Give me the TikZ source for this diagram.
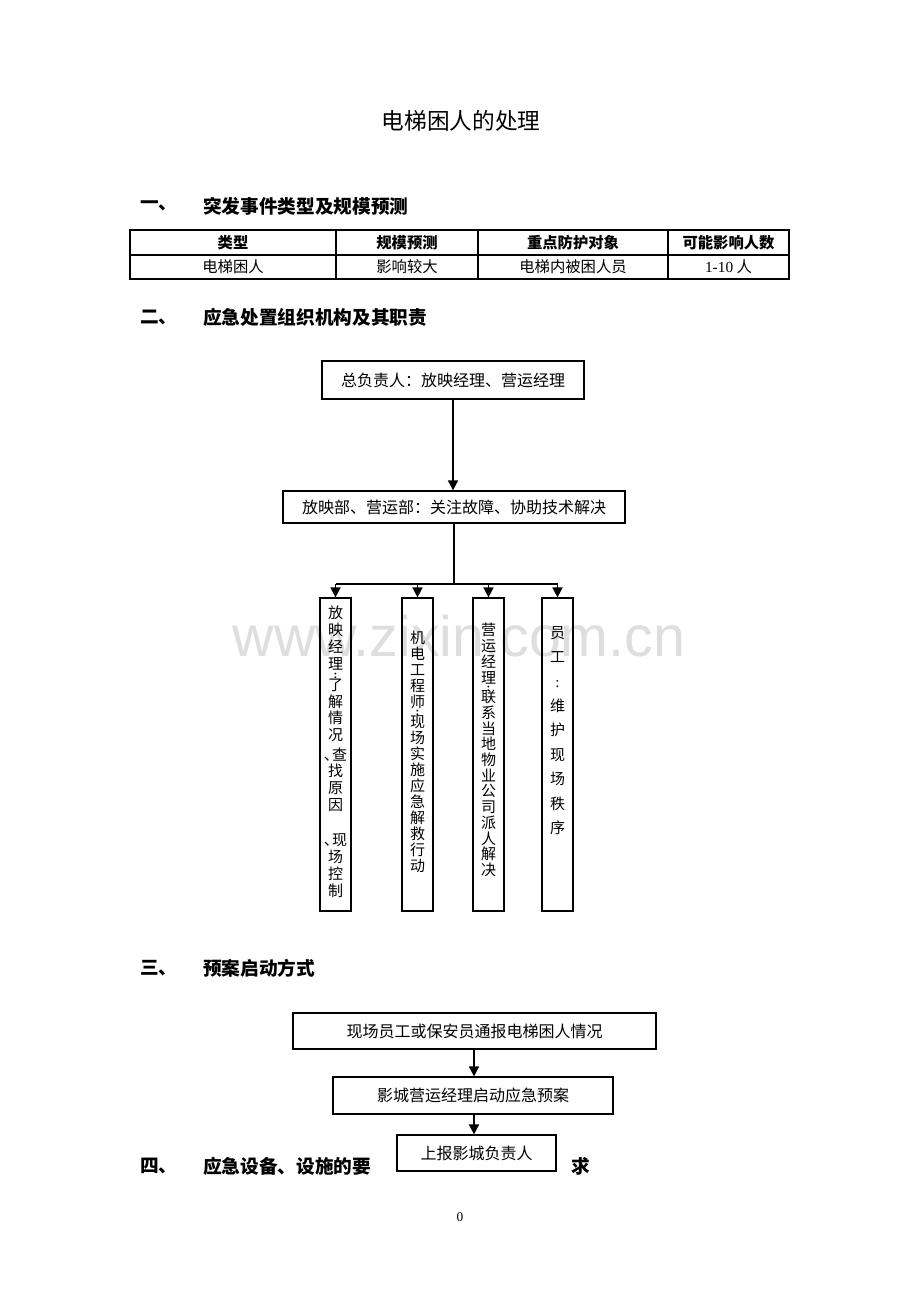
\documentclass[tikz,border=0pt]{standalone}
\usepackage{fontspec}
\setmainfont{Liberation Serif}
\newfontfamily\cjk{Noto Sans CJK SC}
\newfontfamily\wmfont{Liberation Sans}
\usetikzlibrary{arrows.meta}
\newcommand\vcolon{{\rmfamily\bfseries\fontsize{8.5pt}{8.5pt}\selectfont :}}
\tikzset{
  box/.style={draw, line width=0.9pt, inner sep=0pt, font=\cjk\fontsize{12pt}{14pt}\selectfont},
  vbox/.style={draw, line width=0.9pt, inner sep=0pt, minimum width=23.25pt, minimum height=234.75pt},
  vtext/.style={anchor=north, inner sep=0pt, align=center},
  conn/.style={line width=1.2pt},
  arr/.style={line width=1.2pt, -{Triangle[width=7.5pt,length=7.5pt]}},
  head/.style={anchor=west, inner sep=0pt, font=\cjk\bfseries\fontsize{14pt}{16pt}\selectfont},
  thead/.style={inner sep=0pt, font=\cjk\bfseries\fontsize{11.5pt}{13pt}\selectfont},
  tcell/.style={inner sep=0pt, font=\cjk\fontsize{11.5pt}{13pt}\selectfont},
  tline/.style={line width=0.8pt}
}
\begin{document}
\begin{tikzpicture}[x=0.75pt,y=-0.75pt]
\useasboundingbox[fill=white] (0,0) rectangle (920,1302);

% watermark
\node[text=black!13, font=\wmfont\fontsize{43pt}{45pt}\selectfont, inner sep=0pt] (wm) at (459,636) {www.zixin.com.cn};

% title
\node[inner sep=0pt, font=\cjk\fontsize{17pt}{19pt}\selectfont] (title) at (461,121) {电梯困人的处理};

% section 1
\node[head] (h1n) at (140,206) {一、};
\node[head] (h1) at (203,206) {突发事件类型及规模预测};

% table
\draw[tline] (130,230) rectangle (789,279);
\draw[tline] (130,255) -- (789,255);
\draw[tline] (336,230) -- (336,279);
\draw[tline] (478,230) -- (478,279);
\draw[tline] (668,230) -- (668,279);
\node[thead] (t11) at (233,242.5) {类型};
\node[thead] (t12) at (407,242.5) {规模预测};
\node[thead] (t13) at (573,242.5) {重点防护对象};
\node[thead] (t14) at (728.5,242.5) {可能影响人数};
\node[tcell] (t21) at (233,267) {电梯困人};
\node[tcell] (t22) at (407,267) {影响较大};
\node[tcell] (t23) at (573,267) {电梯内被困人员};
\node[tcell] (t24) at (728.5,267) {{\rmfamily 1-10} 人};

% section 2
\node[head] (h2n) at (140,317) {二、};
\node[head] (h2) at (203,317) {应急处置组织机构及其职责};

\node[box, minimum width=196.5pt, minimum height=28.5pt] (b1) at (453,380) {总负责人：放映经理、营运经理};
\node[box, minimum width=256.5pt, minimum height=24pt] (b2) at (454,507) {放映部、营运部：关注故障、协助技术解决};
\draw[arr] (b1.south) -- (b1.south |- b2.north);

\node[vbox] (va) at (335.5,754.5) {};
\node[vbox] (vb) at (417.5,754.5) {};
\node[vbox] (vc) at (488.5,754.5) {};
\node[vbox] (vd) at (557.5,754.5) {};

\coordinate (bus) at (454,584);
\draw[conn] (b2.south) -- (b2.south |- bus);
\draw[conn] (va.north |- bus) -- (vd.north |- bus);
\draw[arr] (va.north |- bus) -- (va.north);
\draw[arr] (vb.north |- bus) -- (vb.north);
\draw[arr] (vc.north |- bus) -- (vc.north);
\draw[arr] (vd.north |- bus) -- (vd.north);

\node[vtext, font=\cjk\fontsize{11.25pt}{12.6pt}\selectfont] (ta) at (335.5,606)
 {放\\映\\经\\理\\[-6pt]\vcolon\\[-3.5pt]了\\解\\情\\况\\[2pt]、\kern-0.45em查\\找\\原\\因\\[14pt]、\kern-0.45em现\\场\\控\\制};
\node[vtext, font=\cjk\fontsize{11.25pt}{12pt}\selectfont] (tb) at (417.5,631)
 {机\\电\\工\\程\\师\\[-6pt]\vcolon\\[-3.5pt]现\\场\\实\\施\\应\\急\\解\\救\\行\\动};
\node[vtext, font=\cjk\fontsize{11.25pt}{11.8pt}\selectfont] (tc) at (488.5,623)
 {营\\运\\经\\理\\[-5.5pt]\vcolon\\[-3.5pt]联\\系\\当\\地\\物\\业\\公\\司\\派\\人\\解\\决};
\node[vtext, font=\cjk\fontsize{11.25pt}{18.3pt}\selectfont] (td) at (557.5,626)
 {员\\工\\{\rmfamily :}\\维\\护\\现\\场\\秩\\序};

% section 3
\node[head] (h3n) at (140,968) {三、};
\node[head] (h3) at (203,968) {预案启动方式};

\node[box, minimum width=272.25pt, minimum height=27pt] (e) at (474.5,1031) {现场员工或保安员通报电梯困人情况};
\node[box, minimum width=210pt, minimum height=27.75pt] (f) at (473,1095.5) {影城营运经理启动应急预案};
\node[box, minimum width=119.25pt, minimum height=27pt] (g) at (476.5,1153) {上报影城负责人};
\draw[arr] (474,1049) coordinate (e1) -- (e1 |- f.north);
\draw[arr] (474,1114) coordinate (f1) -- (f1 |- g.north);

% section 4
\node[head] (h4n) at (140,1166) {四、};
\node[head] (h4) at (203,1166) {应急设备、设施的要};
\node[head] (h4b) at (571,1166) {求};

% page number
\node[inner sep=0pt, font=\rmfamily\fontsize{10pt}{12pt}\selectfont] (pg) at (460,1217) {0};
\end{tikzpicture}
\end{document}
